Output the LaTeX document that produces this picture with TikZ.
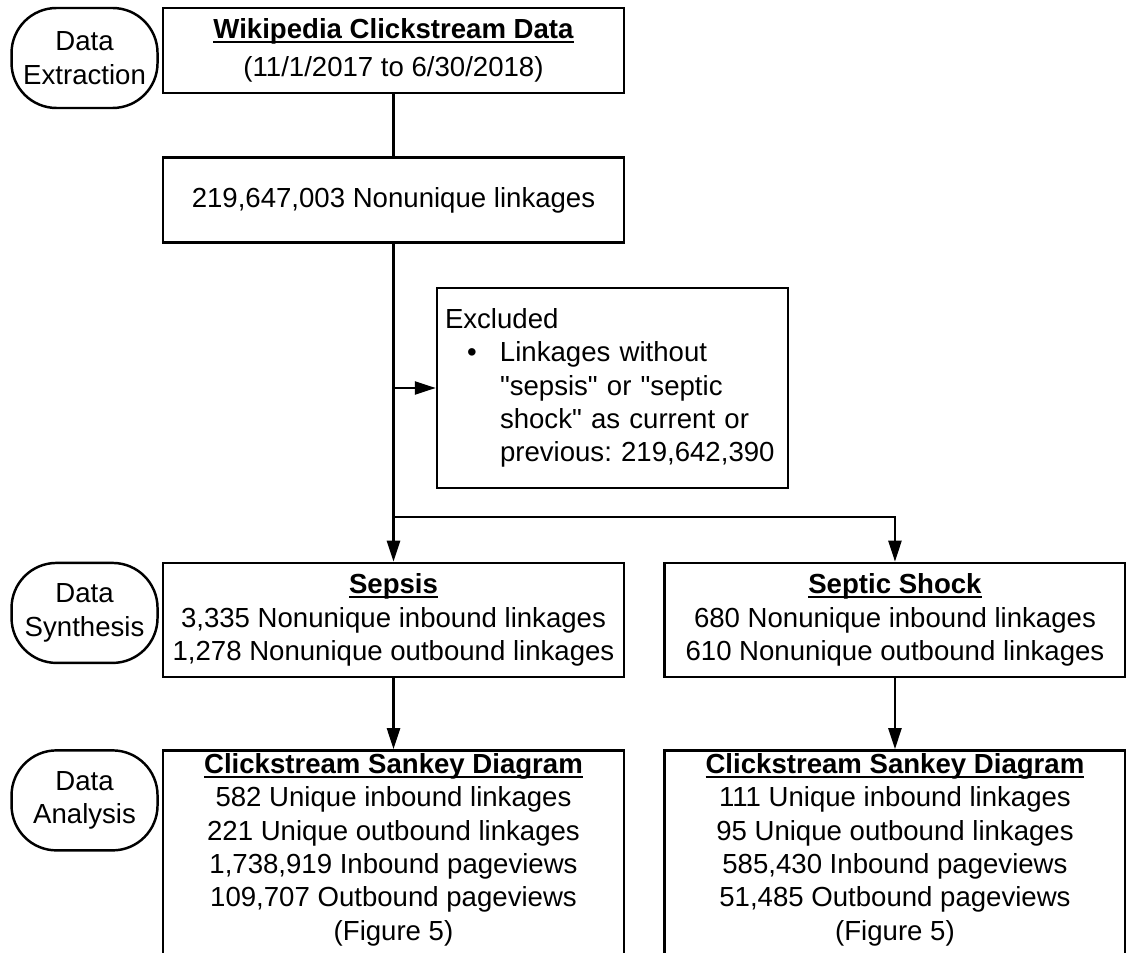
\documentclass[tikz,border=0pt]{standalone}
\usepackage{fontspec}
\setmainfont{Liberation Sans}
\usetikzlibrary{positioning,arrows.meta}
\frenchspacing
\newcommand{\heading}[1]{\textbf{\setbox0\hbox{#1}\rlap{\rule[-2.4pt]{\wd0}{1pt}}\box0}}

\begin{document}
\begin{tikzpicture}[
  >={Triangle[length=4.2mm, width=2.6mm]},
  line width=1.4pt,
  font=\fontsize{15.7}{19}\selectfont,
  box/.style={draw, minimum width=92.2mm, align=center, inner sep=0pt},
  stage/.style={draw, rounded corners=9mm, minimum width=29.2mm, minimum height=20mm, align=center, inner sep=0pt},
  note/.style={draw, minimum height=40mm, text width=67mm, inner xsep=1.6mm, align=left},
  boxtext/.style={anchor=north, align=center, inner sep=0pt},
]
\useasboundingbox (0,0) rectangle (22.52,-19.06);

% data extraction
\node[box, minimum height=17mm] (wiki) at (7.87,-1.01) {\heading{Wikipedia Clickstream Data}\\[3pt](11/1/2017 to 6/30/2018)};
\node[box, minimum height=17mm, below=12.4mm of wiki] (nonuniq) {219,647,003 Nonunique linkages};
\node[note] (excl) at (12.25,-7.76) {Excluded\\
  \makebox[11mm][l]{\hspace{5.4mm}\makebox[0pt][c]{\textbullet}}Linkages without\\
  \hspace*{11mm}\textquotedbl sepsis\textquotedbl{} or \textquotedbl septic\\
  \hspace*{11mm}shock\textquotedbl{} as current or\\
  \hspace*{11mm}previous: 219,642,390};

% data synthesis
\node[box, minimum height=22.8mm, below=63.6mm of nonuniq] (sepsis) {\heading{Sepsis}\\3,335 Nonunique inbound linkages\\1,278 Nonunique outbound linkages};
\node[box, minimum height=22.8mm, right=7.6mm of sepsis] (shock) {\heading{Septic Shock}\\680 Nonunique inbound linkages\\610 Nonunique outbound linkages};

% data analysis
\node[box, minimum height=50mm, below=14.2mm of sepsis] (sankeyA) {};
\node[box, minimum height=50mm, below=14.2mm of shock] (sankeyB) {};
\node[boxtext, yshift=-0.6mm] (sankeyAtext) at (sankeyA.north) {\heading{Clickstream Sankey Diagram}\\582 Unique inbound linkages\\221 Unique outbound linkages\\1,738,919 Inbound pageviews\\109,707 Outbound pageviews\\(Figure 5)};
\node[boxtext, yshift=-0.6mm] (sankeyBtext) at (sankeyB.north) {\heading{Clickstream Sankey Diagram}\\111 Unique inbound linkages\\95 Unique outbound linkages\\585,430 Inbound pageviews\\51,485 Outbound pageviews\\(Figure 5)};

% stages
\node[stage, anchor=north east, xshift=-0.6mm] (extract) at (wiki.north west) {Data\\Extraction};
\node[stage, anchor=north east, xshift=-0.6mm] (synth) at (sepsis.north west) {Data\\Synthesis};
\node[stage, anchor=north east, xshift=-0.6mm] (analysis) at (sankeyA.north west) {Data\\Analysis};

\coordinate (tap) at (nonuniq.south |- excl.west);
\coordinate (split) at (nonuniq.south |- 0,-10.34);
\draw (wiki) -- (nonuniq);
\draw[->] (nonuniq) -- (sepsis);
\draw[->] (tap) -- (excl);
\draw[->] (split) -| (shock);
\draw[->] (sepsis) -- (sankeyA);
\draw[->] (shock) -- (sankeyB);
\end{tikzpicture}
\end{document}
